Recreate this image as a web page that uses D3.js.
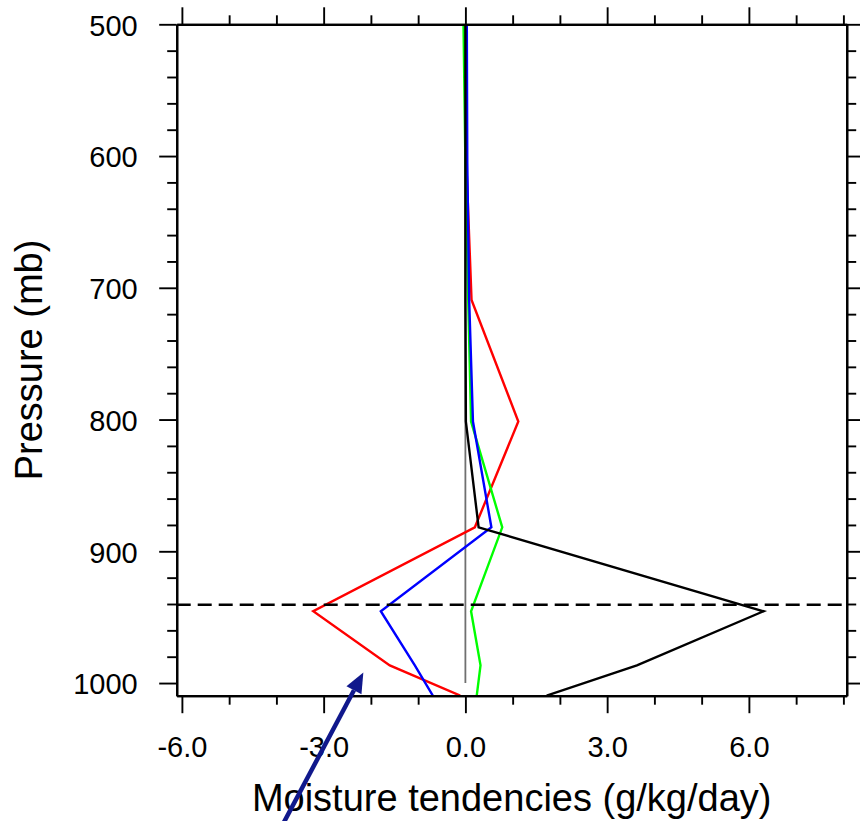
<!DOCTYPE html>
<html>
<head>
<meta charset="utf-8">
<script src="https://cdn.jsdelivr.net/npm/d3@7"></script>
<style>
  html, body { margin: 0; padding: 0; background: #fff; }
  svg { display: block; }
  text { font-family: "Liberation Sans", Arial, Helvetica, sans-serif; }
</style>
</head>
<body>
<svg id="chart" width="860" height="821"></svg>
<script>
// ---- data ----
const levels = [1009.5, 986.6, 945.5, 881.8, 801.5, 709.2, 605, 500];   // pressure (mb)
const redSeries   = [-0.11, -1.60, -3.22, 0.20, 1.12, 0.13, 0.02, 0.01];
const greenSeries = [0.24, 0.32, 0.12, 0.78, 0.12, 0.06, 0.00, -0.04];
const blueSeries  = [-0.69, -1.07, -1.79, 0.55, 0.16, 0.08, 0.04, 0.03];
const blackSeries = [1.72, 3.63, 6.31, 0.28, 0.01, 0.00, 0.00, 0.00];
const seriesColors = ["#ff0000", "#00ff00", "#0000ff", "#000000"];
const xMajorTicks = [-6, -3, 0, 3, 6];
const xMinorTicks = [-5, -4, -2, -1, 1, 2, 4, 5, 7, 8];
const yMajorTicks = [500, 600, 700, 800, 900, 1000];
const yMinorTicks = [520, 540, 560, 580, 620, 640, 660, 680, 720, 740, 760, 780,
                     820, 840, 860, 880, 920, 940, 960, 980];
const xDomain = [-6.11, 8.07];
const yDomain = [500, 1009.6];
const zeroLine = [{x: 0, p: 500}, {x: 0, p: 1000}];
const dashedLevel = 940.5;
const arrowAnnotation = {x0: -3.92, p0: 1111, x1: -2.16, p1: 992};
const xTitle = "Moisture tendencies (g/kg/day)";
const yTitle = "Pressure (mb)";

// ---- layout ----
const svg = d3.select("#chart");
const L = 176.7, R = 846.7, T = 24.3, B = 695.7;
const x = d3.scaleLinear().domain(xDomain).range([L, R]);
const y = d3.scaleLinear().domain(yDomain).range([T, B]);

svg.append("defs").append("clipPath").attr("id", "clip")
  .append("rect").attr("x", L).attr("y", T).attr("width", R - L).attr("height", B - T);

// zero reference line
const line = d3.line().x(d => x(d.x)).y(d => y(d.p));
svg.append("path").datum(zeroLine).attr("d", line)
  .attr("fill", "none").attr("stroke", "#707070").attr("stroke-width", 1.8);

// data lines
const allSeries = [redSeries, greenSeries, blueSeries, blackSeries];
const g = svg.append("g").attr("clip-path", "url(#clip)");
allSeries.forEach((s, i) => {
  const pts = levels.map((p, k) => ({x: s[k], p: p}));
  g.append("path").datum(pts).attr("d", line)
    .attr("fill", "none").attr("stroke", seriesColors[i])
    .attr("stroke-width", 2.4).attr("stroke-linejoin", "miter");
});

// dashed line
svg.append("line")
  .attr("x1", x(xDomain[0])).attr("x2", x(xDomain[1]))
  .attr("y1", y(dashedLevel)).attr("y2", y(dashedLevel))
  .attr("stroke", "#000").attr("stroke-width", 2.5)
  .attr("stroke-dasharray", "14,7");

// ---- axes ----
const fmtX = d => d.toFixed(1);
function styleAxis(sel, fontSize) {
  sel.select(".domain").attr("stroke", "#000").attr("stroke-width", 2.2);
  sel.selectAll(".tick line").attr("stroke", "#000").attr("stroke-width", 1.9);
  sel.selectAll("text").attr("fill", "#000").attr("font-size", fontSize)
     .attr("font-family", "'Liberation Sans', Arial, Helvetica, sans-serif");
}
// bottom
svg.append("g").attr("transform", `translate(0,${B})`)
  .call(d3.axisBottom(x).tickValues(xMinorTicks).tickSize(9).tickSizeOuter(0).tickFormat(""))
  .call(s => styleAxis(s, 29));
svg.append("g").attr("transform", `translate(0,${B})`)
  .call(d3.axisBottom(x).tickValues(xMajorTicks).tickSize(17.5).tickSizeOuter(0)
        .tickPadding(23.5).tickFormat(fmtX))
  .call(s => styleAxis(s, 29));
// top
svg.append("g").attr("transform", `translate(0,${T})`)
  .call(d3.axisTop(x).tickValues(xMinorTicks).tickSize(9).tickSizeOuter(0).tickFormat(""))
  .call(s => styleAxis(s, 29));
svg.append("g").attr("transform", `translate(0,${T})`)
  .call(d3.axisTop(x).tickValues(xMajorTicks).tickSize(17).tickSizeOuter(0).tickFormat(""))
  .call(s => styleAxis(s, 29));
// left
svg.append("g").attr("transform", `translate(${L},0)`)
  .call(d3.axisLeft(y).tickValues(yMinorTicks).tickSize(9.5).tickSizeOuter(0).tickFormat(""))
  .call(s => styleAxis(s, 29));
const leftMajor = svg.append("g").attr("transform", `translate(${L},0)`)
  .call(d3.axisLeft(y).tickValues(yMajorTicks).tickSize(17.5).tickSizeOuter(0)
        .tickPadding(21.5).tickFormat(d3.format("d")))
  .call(s => styleAxis(s, 29));
leftMajor.selectAll("text").attr("dy", "0.37em");
// right
svg.append("g").attr("transform", `translate(${R},0)`)
  .call(d3.axisRight(y).tickValues(yMinorTicks).tickSize(9.5).tickSizeOuter(0).tickFormat(""))
  .call(s => styleAxis(s, 29));
svg.append("g").attr("transform", `translate(${R},0)`)
  .call(d3.axisRight(y).tickValues(yMajorTicks).tickSize(17).tickSizeOuter(0).tickFormat(""))
  .call(s => styleAxis(s, 29));

// titles
svg.append("text").attr("x", (L + R) / 2).attr("y", 810.7)
  .attr("text-anchor", "middle").attr("font-size", 38).attr("fill", "#000")
  .text(xTitle);
svg.append("text")
  .attr("transform", `translate(41.5,${(T + B) / 2}) rotate(-90)`)
  .attr("text-anchor", "middle").attr("font-size", 38).attr("fill", "#000")
  .text(yTitle);

// annotation arrow
const ax0 = x(arrowAnnotation.x0), ay0 = y(arrowAnnotation.p0);
const ax1 = x(arrowAnnotation.x1), ay1 = y(arrowAnnotation.p1);
const ang = Math.atan2(ay1 - ay0, ax1 - ax0);
const headLen = 20, headHalf = 8.5;
const bx = ax1 - headLen * Math.cos(ang), by = ay1 - headLen * Math.sin(ang);
const arrowColor = "#10188c";
svg.append("line").attr("x1", ax0).attr("y1", ay0).attr("x2", bx).attr("y2", by)
  .attr("stroke", arrowColor).attr("stroke-width", 4.5);
const px = -Math.sin(ang), py = Math.cos(ang);
svg.append("polygon")
  .attr("points", [[ax1, ay1], [bx + px * headHalf, by + py * headHalf], [bx - px * headHalf, by - py * headHalf]]
        .map(p => p.join(",")).join(" "))
  .attr("fill", arrowColor);
</script>
</body>
</html>
